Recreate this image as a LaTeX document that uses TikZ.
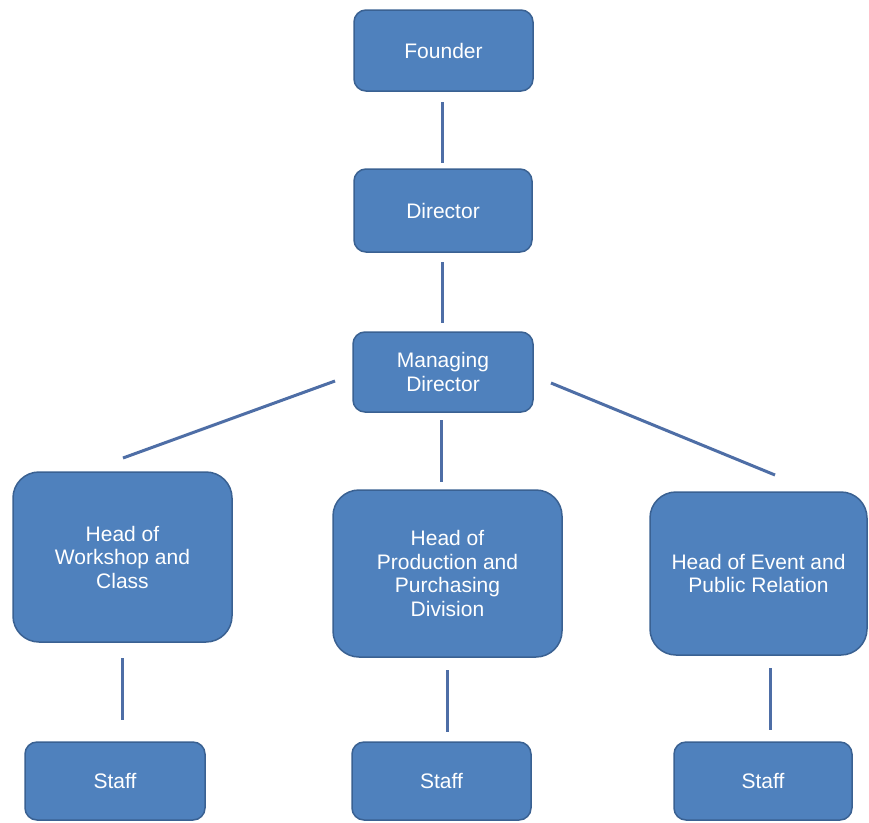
\documentclass[tikz,border=0pt]{standalone}
\usepackage{fontspec}
\setmainfont{Liberation Sans}
\definecolor{boxfill}{HTML}{4F81BD}
\definecolor{boxedge}{HTML}{3A6192}
\definecolor{linkcol}{HTML}{4E6EA6}
\begin{document}
\begin{tikzpicture}[x=1pt,y=-1pt,
  orgbox/.style={draw=boxedge,line width=1.5pt,fill=boxfill,text=white,
    inner sep=0pt,align=center,font=\fontsize{21}{23.5}\selectfont},
  smallbox/.style={orgbox,rounded corners=12pt},
  bigbox/.style={orgbox,rounded corners=26pt},
  link/.style={draw=linkcol,line width=3pt}]
\useasboundingbox[fill=white] (0,0) rectangle (869,822);
\node[smallbox,minimum width=179pt,minimum height=81pt] (founder) at (443.5,50.5) {Founder};
\node[smallbox,minimum width=178pt,minimum height=83pt] (director) at (443,210.5) {Director};
\node[smallbox,minimum width=180pt,minimum height=80pt] (md) at (443,372) {Managing\\Director};
\node[bigbox,minimum width=219pt,minimum height=170pt] (workshop) at (122.5,557) {Head of\\Workshop and\\Class};
\node[bigbox,minimum width=229pt,minimum height=167pt] (production) at (447.5,573.5) {Head of\\Production and\\Purchasing\\Division};
\node[bigbox,minimum width=217pt,minimum height=163pt] (event) at (758.5,573.5) {Head of Event and\\Public Relation};
\node[smallbox,minimum width=180pt,minimum height=78pt] (staffa) at (115,781) {Staff};
\node[smallbox,minimum width=179pt,minimum height=78pt] (staffb) at (441.5,781) {Staff};
\node[smallbox,minimum width=178pt,minimum height=78pt] (staffc) at (763,781) {Staff};
% connector end points (lines stop short of the boxes)
\coordinate (fd1) at (442,102); \coordinate (fd2) at (442,163);
\coordinate (dm1) at (442,262); \coordinate (dm2) at (442,323);
\coordinate (mw1) at (335,381); \coordinate (mw2) at (123,458);
\coordinate (mp1) at (441,420); \coordinate (mp2) at (441,482);
\coordinate (me1) at (551,383); \coordinate (me2) at (775,475);
\coordinate (ws1) at (122,658); \coordinate (ws2) at (122,720);
\coordinate (ps1) at (447,670); \coordinate (ps2) at (447,732);
\coordinate (es1) at (770,668); \coordinate (es2) at (770,730);
\draw[link] (fd1) -- (fd2);
\draw[link] (dm1) -- (dm2);
\draw[link] (mw1) -- (mw2);
\draw[link] (mp1) -- (mp2);
\draw[link] (me1) -- (me2);
\draw[link] (ws1) -- (ws2);
\draw[link] (ps1) -- (ps2);
\draw[link] (es1) -- (es2);
\end{tikzpicture}
\end{document}
